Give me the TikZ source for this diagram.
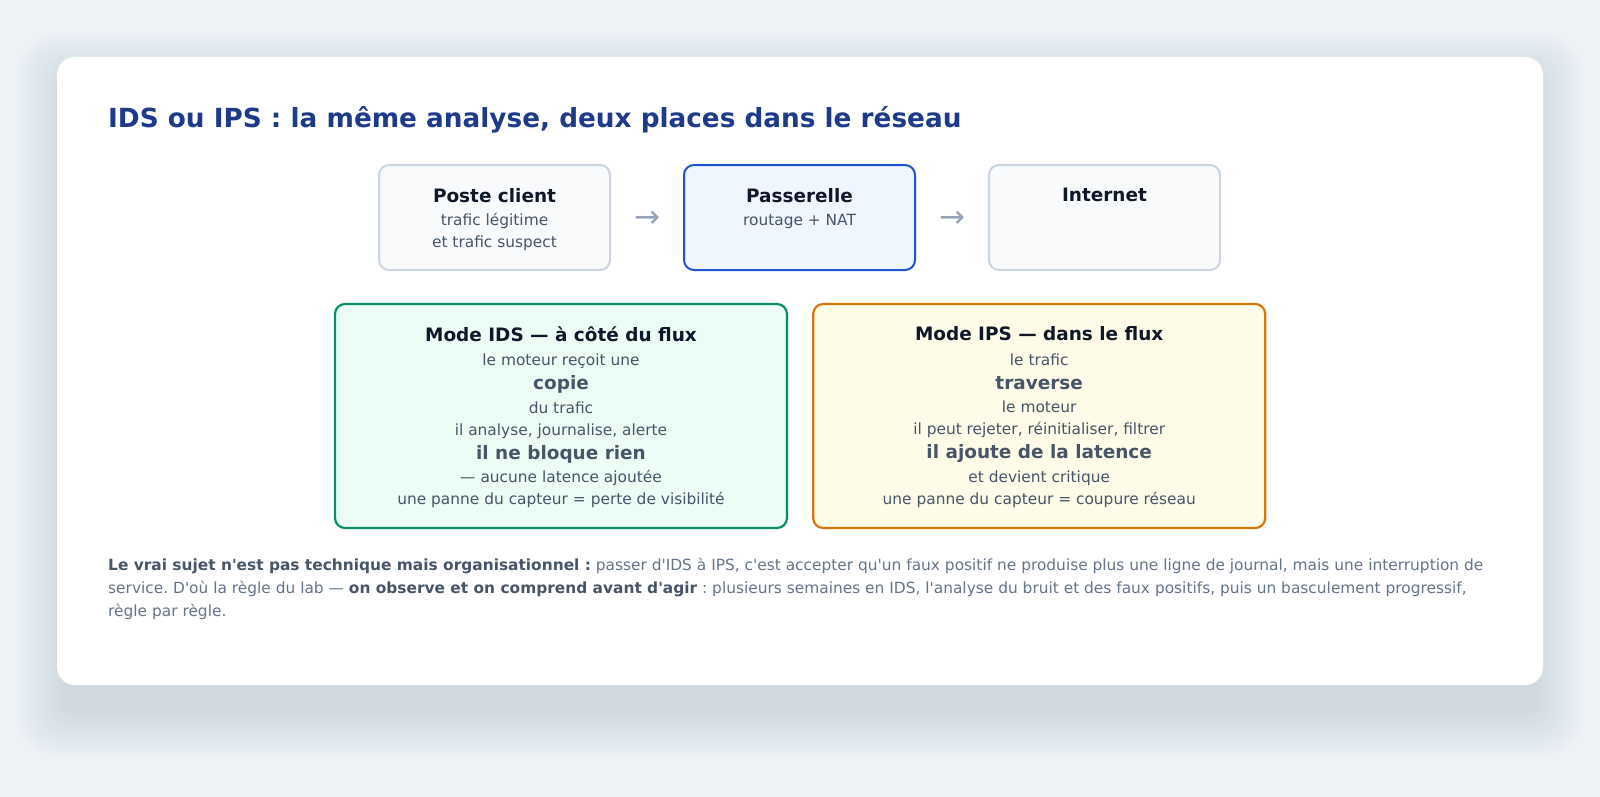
\documentclass[tikz,border=0pt]{standalone}
\usepackage{fontspec}
\setmainfont{DejaVu Sans}[Ligatures=TeXOff]
\usetikzlibrary{positioning,calc}
\definecolor{pagebg}{HTML}{EEF1F6}
\definecolor{shadowcol}{HTML}{64748B}
\definecolor{titleblue}{HTML}{1E3A8A}
\definecolor{inkdark}{HTML}{0F172A}
\definecolor{inkmid}{HTML}{475569}
\definecolor{inklight}{HTML}{64748B}
\definecolor{arrowgray}{HTML}{94A3B8}
\definecolor{hostline}{HTML}{CBD5E1}
\definecolor{hostfill}{HTML}{F8FAFC}
\definecolor{gateline}{HTML}{1D56CE}
\definecolor{gatefill}{HTML}{EFF6FF}
\definecolor{idsline}{HTML}{0B8F62}
\definecolor{idsfill}{HTML}{ECFDF5}
\definecolor{ipsline}{HTML}{D97706}
\definecolor{ipsfill}{HTML}{FEFCE8}
\tikzset{
  every node/.append style={font=\fontsize{15.4}{22}\selectfont, inner sep=0pt},
  hostbox/.style={draw=hostline, fill=hostfill, line width=2pt, rounded corners=10pt, minimum width=231pt, minimum height=105pt},
  hosttext/.style={align=center, text=inkmid},
  modebox/.style={line width=2.2pt, rounded corners=10pt, minimum width=452pt, minimum height=224pt},
  modetext/.style={align=center, text=inkmid},
  flowarrow/.style={text=arrowgray, font=\fontsize{31}{31}\selectfont}
}
\newcommand{\hosttitle}[1]{{\color{inkdark}\bfseries\fontsize{18.45}{22}\selectfont #1}}
\newcommand{\modeemph}[1]{{\bfseries\fontsize{18.45}{22}\selectfont #1}}
\frenchspacing

\begin{document}
\begin{tikzpicture}[x=1pt, y=-1pt]
\useasboundingbox (0,0) rectangle (1600,797);
\fill[pagebg] (0,0) rectangle (1600,797);

% card with soft shadow
\foreach \s in {1,...,24}
  \fill[shadowcol, opacity=0.008, rounded corners=18pt+\s pt]
    (57+8-2*\s,57+24-2*\s) rectangle (1543-8+2*\s,685+24+2*\s);
\fill[white, rounded corners=18pt] (57,57) rectangle (1543,685);

\node[anchor=base west, text=titleblue, font=\bfseries\fontsize{26.3}{30}\selectfont] (title) at (108,128)
  {IDS ou IPS : la même analyse, deux places dans le réseau};

% flow
\node[hostbox] (client) at (494.5,217.5) {};
\node[hostbox, draw=gateline, fill=gatefill, right=72pt of client] (gateway) {};
\node[hostbox, right=72pt of gateway] (internet) {};
\node[flowarrow] (arrowA) at ($(client.east)!0.5!(gateway.west)+(0,2)$) {→};
\node[flowarrow] (arrowB) at ($(gateway.east)!0.5!(internet.west)+(0,2)$) {→};

\node[hosttext, below=24pt of client.north] (clienttext)
  {\hosttitle{Poste client}\\[1pt] trafic légitime\\ et trafic suspect};
\node[hosttext, below=24pt of gateway.north] (gatewaytext)
  {\hosttitle{Passerelle}\\[1pt] routage + NAT};
\node[hosttext, below=24pt of internet.north] (internettext)
  {\hosttitle{Internet}};

% modes
\node[modebox, draw=idsline, fill=idsfill] (ids) at (561,416) {};
\node[modebox, draw=ipsline, fill=ipsfill, right=24pt of ids] (ips) {};
\node[modetext] (idstext) at ($(ids.center)+(0,1)$)
  {\hosttitle{Mode IDS — à côté du flux}\\[2.5pt]
   le moteur reçoit une\\[2pt]
   \modeemph{copie}\\[1.5pt]
   du trafic\\
   il analyse, journalise, alerte\\[2pt]
   \modeemph{il ne bloque rien}\\[1.5pt]
   — aucune latence ajoutée\\
   une panne du capteur = perte de visibilité};
\node[modetext] (ipstext) at ($(ips.center)+(0,1)$)
  {\hosttitle{Mode IPS — dans le flux}\\[2.5pt]
   le trafic\\[2pt]
   \modeemph{traverse}\\[1.5pt]
   le moteur\\
   il peut rejeter, réinitialiser, filtrer\\[2pt]
   \modeemph{il ajoute de la latence}\\[1.5pt]
   et devient critique\\
   une panne du capteur = coupure réseau};

% note
\node[anchor=north west, align=left, text=inklight, font=\fontsize{15.4}{23}\selectfont] (note) at (108,558)
  {{\color{inkmid}\bfseries Le vrai sujet n'est pas technique mais organisationnel :} passer d'IDS à IPS, c'est accepter qu'un faux positif ne produise plus une ligne de journal, mais une interruption de\\
   service. D'où la règle du lab — {\color{inkmid}\bfseries on observe et on comprend avant d'agir} : plusieurs semaines en IDS, l'analyse du bruit et des faux positifs, puis un basculement progressif,\\
   règle par règle.};
\end{tikzpicture}
\end{document}
